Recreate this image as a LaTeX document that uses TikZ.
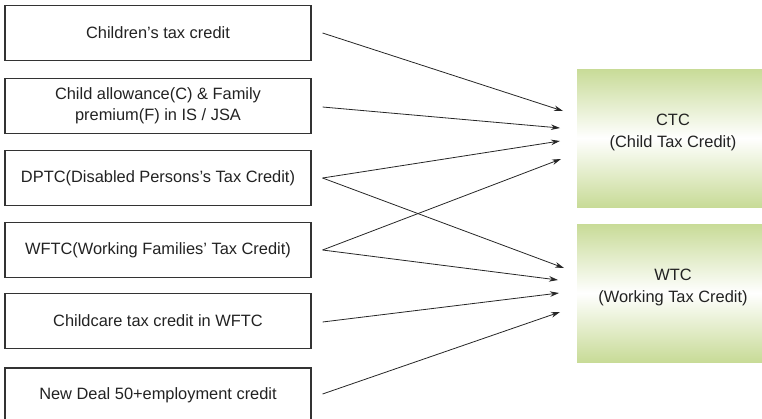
\documentclass[tikz,border=0pt]{standalone}
\usepackage{fontspec}
\setmainfont{Liberation Sans}
\usetikzlibrary{arrows.meta,calc}
\definecolor{boxline}{HTML}{333333}
\definecolor{txt}{HTML}{222222}
\definecolor{lgreen}{HTML}{C8DB97}
\begin{document}
\begin{tikzpicture}[x=1pt,y=-1pt,
  srcbox/.style={draw=boxline,line width=1.1pt,minimum width=306pt,minimum height=55pt,
    inner sep=0pt,align=center,text=txt,font=\fontsize{16.4}{21}\selectfont},
  tgtlabel/.style={align=center,text=txt,font=\fontsize{16.4}{22}\selectfont},
  conn/.style={draw=black!85,line width=0.8pt,-{Stealth[length=9pt,width=5.5pt]}}]
\useasboundingbox (0,0) rectangle (762,418);
% target boxes
\shade[top color=lgreen,bottom color=lgreen,middle color=white] (577,69) rectangle (762,207);
\shade[top color=lgreen,bottom color=lgreen,middle color=white] (577,224) rectangle (762,362);
\node[tgtlabel] (ctc) at (673,132) {CTC\\(Child Tax Credit)};
\node[tgtlabel] (wtc) at (673,287) {WTC\\(Working Tax Credit)};
% source boxes
\node[srcbox] (b1) at (158,33) {Children's tax credit};
\node[srcbox] (b2) at (158,106) {Child allowance(C) \& Family\\premium(F) in IS / JSA};
\node[srcbox] (b3) at (158,178) {DPTC(Disabled Persons's Tax Credit)};
\node[srcbox] (b4) at (158,250) {WFTC(Working Families' Tax Credit)};
\node[srcbox] (b5) at (158,321) {Childcare tax credit in WFTC};
\node[srcbox] (b6) at (158,395.5) {New Deal 50+employment credit};
% arrow ends
\coordinate (c1) at (563,111);
\coordinate (c2) at (560,128);
\coordinate (c3) at (560,141);
\coordinate (c4) at (561,159);
\coordinate (w1) at (564,268);
\coordinate (w2) at (558,280);
\coordinate (w3) at (559,293);
\coordinate (w4) at (560,312);
% arrow starts
\coordinate (s1) at ($(b1.east)+(11,0)$);
\coordinate (s2) at ($(b2.east)+(11,1)$);
\coordinate (s3) at ($(b3.east)+(11,0)$);
\coordinate (s4) at ($(b4.east)+(11,0)$);
\coordinate (s5) at ($(b5.east)+(11,1)$);
\coordinate (s6) at ($(b6.east)+(11,-1.5)$);
\draw[conn] (s1) -- (c1);
\draw[conn] (s2) -- (c2);
\draw[conn] (s3) -- (c3);
\draw[conn] (s3) -- (w1);
\draw[conn] (s4) -- (c4);
\draw[conn] (s4) -- (w2);
\draw[conn] (s5) -- (w3);
\draw[conn] (s6) -- (w4);
\end{tikzpicture}
\end{document}
